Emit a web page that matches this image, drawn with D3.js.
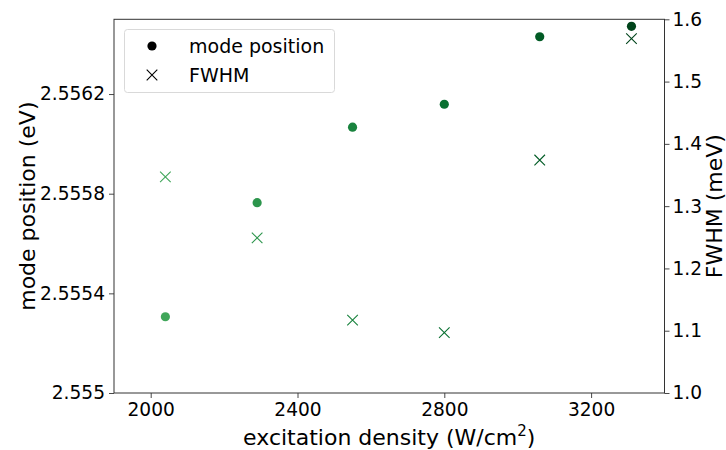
<!DOCTYPE html>
<html>
<head>
<meta charset="utf-8">
<script src="https://cdn.jsdelivr.net/npm/d3@7"></script>
<style>
  html, body { margin: 0; padding: 0; background: #fff; }
  svg { display: block; font-family: "DejaVu Sans", sans-serif; }
</style>
</head>
<body>
<svg id="chart" width="726" height="450"></svg>
<script>
// Excitation density series (W/cm^2)
const density = [2040, 2290, 2550, 2800, 3060, 3310];
// Mode position (eV)
const modePosition = [2.555306, 2.555764, 2.556067, 2.556159, 2.556430, 2.556472];
// Full width at half maximum (meV)
const fwhm = [1.347, 1.249, 1.117, 1.097, 1.374, 1.569];

const xTicks = [2000, 2400, 2800, 3200];
const leftTicks = [2.555, 2.5554, 2.5558, 2.5562];
const leftTickLabels = ["2.555", "2.5554", "2.5558", "2.5562"];
const rightTicks = [1.0, 1.1, 1.2, 1.3, 1.4, 1.5, 1.6];

const svg = d3.select("#chart");
const m = { left: 114, right: 664.5, top: 19.3, bottom: 393 };

const x = d3.scaleLinear().domain([1900, 3400]).range([m.left, m.right]);
const yL = d3.scaleLinear().domain([2.555, 2.5565]).range([m.bottom, m.top]);
const yR = d3.scaleLinear().domain([1.0, 1.6]).range([m.bottom, m.top]);

// colour each point by its position along the series
const shade = i => d3.interpolateGreens(0.64 + 0.36 * i / (density.length - 1));

const fontSize = 18.6;
const titleSize = 22;
const spineColor = "#333";

function styleAxis(g) {
  g.select(".domain").remove();
  g.selectAll(".tick line").attr("stroke", spineColor).attr("stroke-width", 0.9);
  g.selectAll(".tick text").attr("fill", "#000").style("font-size", fontSize + "px")
    .style("font-family", "DejaVu Sans, sans-serif");
}

// axes
svg.append("g").attr("transform", `translate(0,${m.bottom})`)
  .call(d3.axisBottom(x).tickValues(xTicks).tickFormat(d3.format("d")).tickSize(5).tickPadding(5))
  .call(styleAxis);

svg.append("g").attr("transform", `translate(${m.left},0)`)
  .call(d3.axisLeft(yL).tickValues(leftTicks).tickFormat((d, i) => leftTickLabels[i]).tickSize(5).tickPadding(4))
  .call(styleAxis);

svg.append("g").attr("transform", `translate(${m.right},0)`)
  .call(d3.axisRight(yR).tickValues(rightTicks).tickFormat(d3.format(".1f")).tickSize(5).tickPadding(3))
  .call(styleAxis);

// frame
svg.append("rect")
  .attr("x", m.left).attr("y", m.top)
  .attr("width", m.right - m.left).attr("height", m.bottom - m.top)
  .attr("fill", "none").attr("stroke", spineColor).attr("stroke-width", 1);

// mode position markers
svg.append("g").selectAll("circle").data(density).join("circle")
  .attr("cx", d => x(d))
  .attr("cy", (d, i) => yL(modePosition[i]))
  .attr("r", 4.6)
  .attr("fill", (d, i) => shade(i));

// FWHM markers
const cross = 5.3;
svg.append("g").selectAll("path").data(density).join("path")
  .attr("d", (d, i) => {
    const cx = x(d), cy = yR(fwhm[i]);
    return `M${cx - cross},${cy - cross}L${cx + cross},${cy + cross}M${cx - cross},${cy + cross}L${cx + cross},${cy - cross}`;
  })
  .attr("stroke", (d, i) => shade(i))
  .attr("stroke-width", 1.1)
  .attr("fill", "none");

// axis titles
svg.append("text")
  .attr("transform", `translate(29,${(m.top + m.bottom) / 2}) rotate(-90)`)
  .attr("text-anchor", "middle").attr("dominant-baseline", "middle")
  .style("font-size", titleSize + "px").text("mode position (eV)");

svg.append("text")
  .attr("transform", `translate(722,${(m.top + m.bottom) / 2}) rotate(-90)`)
  .attr("text-anchor", "middle")
  .style("font-size", titleSize + "px").text("FWHM (meV)");

const xl = svg.append("text")
  .attr("x", (m.left + m.right) / 2).attr("y", 445)
  .attr("text-anchor", "middle").style("font-size", titleSize + "px");
xl.append("tspan").text("excitation density (W/cm");
xl.append("tspan").attr("dy", -9).style("font-size", "15px").text("2");
xl.append("tspan").attr("dy", 9).text(")");

// legend
const lg = svg.append("g");
lg.append("rect").attr("x", 124.5).attr("y", 29.5).attr("width", 210).attr("height", 63)
  .attr("rx", 3).attr("fill", "#fff").attr("fill-opacity", 0.8)
  .attr("stroke", "#d9d9d9").attr("stroke-width", 1);
lg.append("circle").attr("cx", 152).attr("cy", 46).attr("r", 4.6).attr("fill", "#000");
lg.append("path")
  .attr("d", `M${152 - cross},${75 - cross}L${152 + cross},${75 + cross}M${152 - cross},${75 + cross}L${152 + cross},${75 - cross}`)
  .attr("stroke", "#000").attr("stroke-width", 1.1);
lg.append("text").attr("x", 189).attr("y", 46).attr("dominant-baseline", "central")
  .style("font-size", "19px").text("mode position");
lg.append("text").attr("x", 189).attr("y", 75).attr("dominant-baseline", "central")
  .style("font-size", "19px").text("FWHM");
</script>
</body>
</html>
